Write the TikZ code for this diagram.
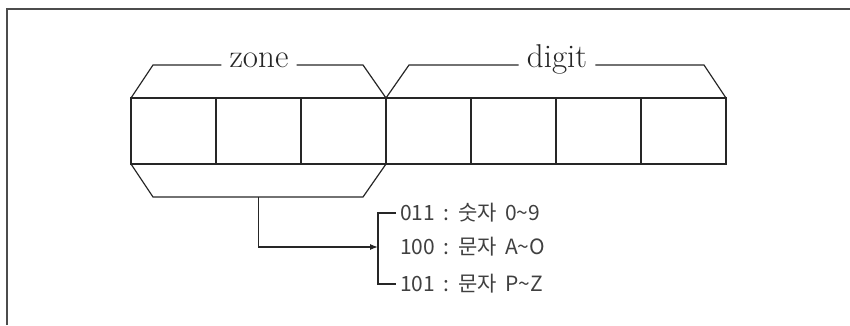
\documentclass[tikz,border=0pt]{standalone}
\usepackage{fontspec}
\newfontfamily\kor{Noto Sans CJK KR}[WordSpace=1.7]
\usetikzlibrary{arrows.meta}
\begin{document}
\begin{tikzpicture}[x=1pt, y=1pt, black!85,
  cell/.style={draw, line width=2.6pt, minimum width=85pt, minimum height=66pt, inner sep=0pt, outer sep=0pt},
  brace/.style={line width=1.2pt},
  title/.style={inner xsep=8pt, inner ysep=0pt, anchor=mid, font=\addfontfeatures{FakeBold=1.5}\fontsize{33pt}{33pt}\selectfont},
  code/.style={anchor=west, inner xsep=4pt, inner ysep=0pt, text=black!75, font=\kor\fontsize{21pt}{21pt}\selectfont}]
  \useasboundingbox (0,0) rectangle (850,325);

  % Frame, top and left only
  \draw[line width=1.5pt, black!70] (7,0) -- (7,316) -- (850,316);

  % Define the cells
  \node[cell] (z1) at (173.5,194) {};
  \node[cell] (z2) at (258.5,194) {};
  \node[cell] (z3) at (343.5,194) {};
  \node[cell] (d1) at (428.5,194) {};
  \node[cell] (d2) at (513.5,194) {};
  \node[cell] (d3) at (598.5,194) {};
  \node[cell] (d4) at (683.5,194) {};

  % Labels over the cells
  \node[title] (zone) at (259,260) {zone};
  \node[title] (digit) at (557,260) {digit};

  % Braces over zone and digit
  \draw[brace] (z1.north west) -- ++(22,33) -- (zone.mid west);
  \draw[brace] (zone.mid east) -- ([xshift=-23pt, yshift=33pt]z3.north east) -- (z3.north east);
  \draw[brace] (d1.north west) -- ++(23,33) -- (digit.mid west);
  \draw[brace] (digit.mid east) -- ([xshift=-22pt, yshift=33pt]d4.north east) -- (d4.north east);

  % Brace under zone
  \draw[brace] (z1.south west) -- ++(22,-33) -- ([xshift=-23pt, yshift=-33pt]z3.south east) -- (z3.south east);

  % Code list
  \node[code] (t1) at (396,112) {011 : 숫자 0\textasciitilde 9};
  \node[code] (t2) at (396,78) {100 : 문자 A\textasciitilde O};
  \node[code] (t3) at (396,41) {101 : 문자 P\textasciitilde Z};
  \coordinate (bk) at ([xshift=-18pt]t2.west);

  % Bracket and arrow
  \draw[brace] (t1.west) -- ++(-18,0) |- (t3.west);
  \draw[brace, -{Latex[length=8pt, width=6pt]}] ([yshift=-33pt]z2.south) |- (bk);
\end{tikzpicture}
\end{document}
